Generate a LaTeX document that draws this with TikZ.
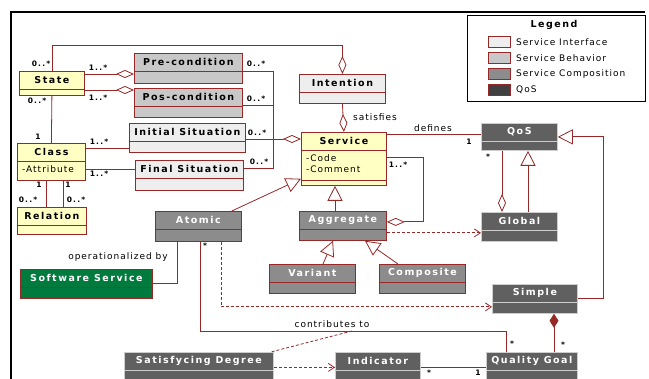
\documentclass[tikz,border=0pt]{standalone}
\usepackage{fontspec}
\setmainfont{DejaVu Sans}[LetterSpace=11, BoldFeatures={LetterSpace=16}]
\usetikzlibrary{arrows.meta}

\definecolor{umlred}{RGB}{150,40,40}
\definecolor{umlyellow}{RGB}{255,255,196}
\definecolor{ifacegray}{RGB}{238,238,238}
\definecolor{behavgray}{RGB}{200,200,200}
\definecolor{compogray}{RGB}{140,140,140}
\definecolor{qosgray}{RGB}{96,96,96}
\definecolor{qosborder}{RGB}{205,205,205}
\definecolor{qosswatch}{RGB}{64,64,64}
\definecolor{implgreen}{RGB}{0,122,61}

\tikzset{
  box/.style={draw=umlred, line width=0.8pt, inner sep=0pt},
  core/.style={box, fill=umlyellow},
  iface/.style={box, fill=ifacegray},
  behavior/.style={box, fill=behavgray},
  compo/.style={box, fill=compogray, text=white},
  qos/.style={box, draw=qosborder, fill=qosgray, text=white},
  impl/.style={box, fill=implgreen, text=white},
  assoc/.style={draw=umlred, line width=0.8pt},
  aggr/.style={assoc, -{Diamond[open, fill=white, length=18pt, width=8pt]}},
  compos/.style={assoc, -{Diamond[length=14pt, width=9pt]}},
  gen/.style={assoc, -{Triangle[open, fill=white, length=15pt, width=15pt]}},
  dep/.style={assoc, dash pattern=on 3pt off 2pt, -{Straight Barb[length=6pt, width=8pt]}},
  mult/.style={font=\bfseries\fontsize{7.5}{8}\selectfont, inner sep=0pt},
  role/.style={font=\fontsize{9}{10}\selectfont, inner sep=0pt},
}

% class box: [kind] name, top left corner, width, height, title
\newcommand{\umlclass}[6][iface]{%
  \node[#1, minimum width=#4pt, minimum height=#5pt, anchor=north west] (#2) at (#3) {};
  \draw[#1, fill=none] ([yshift=-18pt]#2.north west) -- ([yshift=-18pt]#2.north east);
  \node[#1, draw=none, fill=none, font=\bfseries\fontsize{9.5}{10}\selectfont] at ([yshift=-9pt]#2.north) {#6};
}

\begin{document}
\begin{tikzpicture}[x=1pt, y=-1pt]
\useasboundingbox (0,0) rectangle (649,379);
\draw[line width=1.6pt] (11,379) -- (11,12) -- (645,12);

% classes
\umlclass[core]{State}{19,71}{65}{24}{State}
\umlclass[core]{Class}{17,143}{68}{37}{Class}
\umlclass[core]{Relation}{17,207}{69}{27}{Relation}
\umlclass[behavior]{Precondition}{134,53}{108}{30}{Pre-condition}
\umlclass[behavior]{Poscondition}{134,88}{108}{29}{Pos-condition}
\umlclass[iface]{InitialSituation}{129,123}{116}{29}{Initial Situation}
\umlclass[iface]{FinalSituation}{135,160}{108}{30}{Final Situation}
\umlclass[iface]{Intention}{299,74}{86}{29}{Intention}
\umlclass[core]{Service}{301,132}{85}{53}{Service}
\umlclass[qos]{QoS}{481,123}{76}{27}{QoS}
\umlclass[qos]{Global}{481,212}{76}{29}{Global}
\umlclass[qos]{Simple}{492,284}{85}{29}{Simple}
\umlclass[compo]{Atomic}{155,211}{86}{30}{Atomic}
\umlclass[compo]{Aggregate}{299,211}{87}{29}{Aggregate}
\umlclass[compo]{Variant}{269,264}{86}{29}{Variant}
\umlclass[compo]{Composite}{379,264}{86}{29}{Composite}
\umlclass[impl]{SoftwareService}{20,269}{132}{29}{Software Service}
\umlclass[qos]{SatisfycingDegree}{124,352}{149}{30}{Satisfycing Degree}
\umlclass[qos]{Indicator}{335,352}{85}{30}{Indicator}
\umlclass[qos]{QualityGoal}{486,352}{91}{30}{Quality Goal}

% attributes
\node[role, anchor=west] at ([shift={(5pt,-26pt)}]Class.north west) {-Attribute};
\node[role, anchor=west] at ([shift={(5pt,-26pt)}]Service.north west) {-Code};
\node[role, anchor=west] at ([shift={(5pt,-37pt)}]Service.north west) {-Comment};
\draw[assoc] ([yshift=5pt]Service.south west) -- ([yshift=5pt]Service.south east);

% state and class
\draw[aggr] (State.north) |- (Intention.north |- 0,45) -- (Intention.north);
\draw[assoc] (State.south) -- (Class.north);
\draw[aggr] (State.east |- 0,74) -- (Precondition.west |- 0,74);
\draw[aggr] (State.east |- 0,90) -- (Poscondition.west |- 0,90);
\draw[assoc] (Class.east |- 0,148) -- (InitialSituation.west |- 0,148);
\draw[assoc] (Class.east |- 0,169) -- (FinalSituation.west |- 0,169);
\draw[assoc] (Class.south -| 46,0) -- (Relation.north -| 46,0);
\draw[assoc] (Class.south -| 63,0) -- (Relation.north -| 63,0);

% behavior and interface to service
\coordinate (bus) at (273,139);
\draw[assoc] (Precondition.east |- 0,71) -| (bus);
\draw[assoc] (Poscondition.east |- 0,105) -| (bus);
\draw[assoc] (FinalSituation.east |- 0,168) -| (bus);
\draw[aggr] (InitialSituation.east |- 0,139) -- (Service.west |- 0,139);
\draw[aggr] (Intention.south) -- (Service.north);

% service composition
\draw[gen] ([xshift=-10pt]Atomic.north east) -- ([yshift=7pt]Service.south west);
\draw[gen] (Aggregate.north -| 335,0) -- (Service.south -| 335,0);
\draw[aggr] (Service.east |- 0,157) -- ++(37,0) |- ([yshift=4pt]Aggregate.east);
\draw[gen] (Variant.north -| 323,0) -- (Aggregate.south -| 333,0);
\draw[gen] (Composite.north -| 398,0) -- (Aggregate.south -| 365,0);
\draw[assoc] (Atomic.south -| 177,0) |- (SoftwareService.east);

% qos
\draw[assoc] (Service.east |- 0,134) -- (QoS.west |- 0,134);
\draw[aggr] (QoS.south -| 502,0) -- (Global.north -| 502,0);
\draw[gen] (Global.north -| 528,0) -- (QoS.south -| 528,0);
\draw[gen] (Simple.east) -- ++(26,0) |- (QoS.east);
\draw[dep] ([yshift=-7pt]Aggregate.east) -- ([yshift=-7pt]Aggregate.east -| Global.west);
\draw[dep] (Atomic.south -| 221,0) |- ([yshift=-8pt]Simple.west);
\draw[assoc] (Atomic.south -| 200,0) -- ++(0,90) -| (QualityGoal.north -| 506,0);
\coordinate (contrib) at (352,331);
\draw[assoc, dash pattern=on 3pt off 2pt] (contrib) -- ([xshift=-3pt]SatisfycingDegree.north east);
\draw[compos] (QualityGoal.north -| 554,0) -- (Simple.south -| 554,0);
\draw[dep] (SatisfycingDegree.east) -- (Indicator.west);
\draw[assoc] (Indicator.east) -- (QualityGoal.west);

% multiplicities
\node[mult] at (41,64) {0..*};
\node[mult] at (37,101) {0..*};
\node[mult] at (38,137) {1};
\node[mult] at (98,68) {1..*};
\node[mult] at (98,98) {1..*};
\node[mult] at (99,142) {1..*};
\node[mult] at (99,174) {1..*};
\node[mult] at (256,64) {0..*};
\node[mult] at (256,99) {0..*};
\node[mult] at (257,133) {0..*};
\node[mult] at (259,162) {0..*};
\node[mult] at (39,185) {1};
\node[mult] at (68,185) {1};
\node[mult] at (28,200) {0..*};
\node[mult] at (76,200) {0..*};
\node[mult] at (398,165) {1..*};
\node[mult] at (469,142) {1};
\node[mult] at (488,157) {*};
\node[mult] at (205,246) {*};
\node[mult] at (512,344) {*};
\node[mult] at (563,345) {*};
\node[mult] at (429,373) {*};
\node[mult] at (478,373) {1};

% association names
\node[role] at (375,117) {satisfies};
\node[role] at (433,128) {defines};
\node[role] at (118,257) {operationalized by};
\node[role] at (332,324) {contributes to};

% legend
\node[draw, line width=1pt, minimum width=178pt, minimum height=86pt, anchor=north west] (legend) at (467,15) {};
\node[font=\bfseries\fontsize{9.5}{10}\selectfont] at (554,25) {Legend};
\foreach \y/\c/\t in {42/ifacegray/Service Interface, 58/behavgray/Service Behavior,
                      74/compogray/Service Composition, 90/qosswatch/QoS} {
  \node[box, fill=\c, minimum width=22pt, minimum height=11pt] at (499,\y) {};
  \node[role, anchor=west] at (516,\y) {\t};
}
\end{tikzpicture}
\end{document}
